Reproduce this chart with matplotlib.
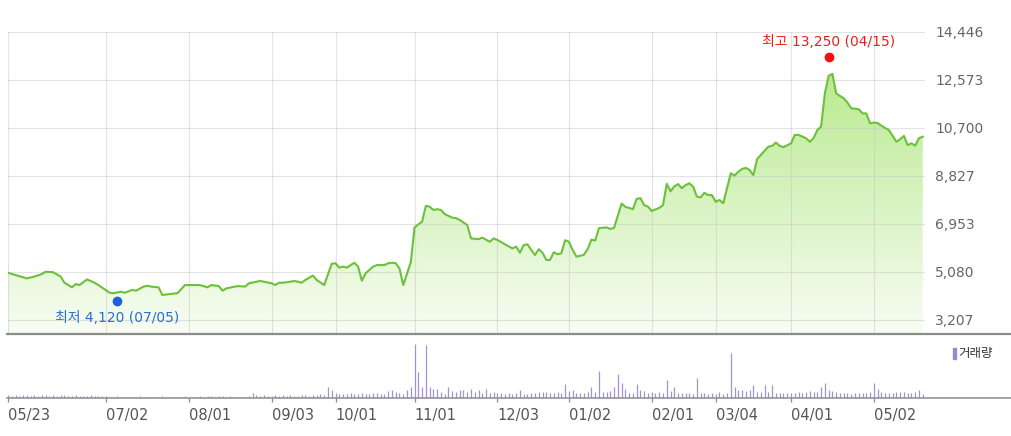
import matplotlib
matplotlib.use('Agg')
import matplotlib.pyplot as plt
import numpy as np
from matplotlib.lines import Line2D
from matplotlib.patches import Rectangle
from matplotlib.transforms import offset_copy

plt.rcParams['font.family'] = ['DejaVu Sans', 'Noto Sans CJK KR']

# trading day index (0 = 2018-05-23) and closing price
day_idx = [0, 2, 5, 7, 9, 10, 12, 14, 15, 17, 18, 19, 21, 23, 24, 27, 28, 30, 31, 33, 34, 36, 37, 38, 40, 41,
           43, 45, 47, 48, 51, 53, 54, 56, 57, 58, 59, 61, 63, 64, 66, 67, 68, 70, 71, 72, 73, 75, 76, 77, 78, 79, 81, 82, 84,
           86, 87, 88, 89, 90, 92, 93, 94, 95, 97, 98, 100, 101, 102, 103, 104, 105,
           107, 108, 109, 110, 111, 112, 113, 114, 115, 116, 118, 119, 120, 122, 123, 125, 126, 128, 129, 130,
           132, 134, 135, 136, 137, 138, 139, 140, 141, 142, 143, 144, 145, 146, 147, 148, 149, 150, 151, 152, 153, 154, 155, 156, 157,
           159, 160, 161, 163, 164, 165, 166, 167, 168, 169, 170, 171, 172, 173, 174, 175, 176, 177, 178, 179, 180, 181, 182, 183, 184, 185, 186, 187, 188, 189, 190,
           192, 193, 194, 195, 196, 197, 198, 199, 200, 202, 203, 204, 205, 206, 208, 209, 210, 212, 213, 214, 215, 216,
           217, 218, 219, 220, 221, 222, 223, 224, 226, 227, 228, 229, 230, 231, 232, 233, 234, 235, 236, 237, 238, 239, 240, 241, 242, 243]
close = [5040, 4950, 4820, 4890, 4990, 5080, 5060, 4890, 4650, 4470, 4600, 4560, 4780, 4650, 4560, 4260, 4240, 4300, 4260, 4370, 4340, 4500, 4530, 4500, 4470, 4170,
         4210, 4240, 4560, 4560, 4560, 4470, 4560, 4520, 4340, 4430, 4460, 4520, 4500, 4630, 4690, 4720, 4690, 4630, 4560, 4650, 4650, 4690, 4720, 4690, 4650, 4760, 4930, 4760, 4560,
         5390, 5410, 5240, 5280, 5240, 5430, 5280, 4730, 5020, 5280, 5340, 5340, 5410, 5430, 5410, 5210, 4560,
         5450, 6810, 6930, 7030, 7650, 7620, 7490, 7520, 7490, 7330, 7190, 7170, 7100, 6900, 6380, 6350, 6410, 6250, 6380, 6320,
         6150, 5990, 6060, 5820, 6120, 6150, 5930, 5730, 5960, 5820, 5540, 5540, 5840, 5760, 5800, 6310, 6250, 5930, 5670, 5700, 5740, 5970, 6330, 6300, 6780,
         6810, 6750, 6790, 7740, 7610, 7570, 7520, 7920, 7950, 7680, 7620, 7450, 7510, 7570, 7680, 8510, 8220, 8410, 8500, 8340, 8460, 8530, 8400, 8010, 7980, 8160, 8070, 8070, 7810, 7880, 7750,
         8920, 8830, 8980, 9090, 9130, 9050, 8850, 9470, 9640, 9960, 9990, 10120, 9990, 9940, 10090, 10420, 10420, 10290, 10150, 10290, 10610, 10740,
         12040, 12720, 12800, 12040, 11940, 11850, 11680, 11460, 11420, 11260, 11260, 10870, 10900, 10880, 10780, 10690, 10610, 10380, 10150, 10250, 10380, 10020, 10090, 10000, 10290, 10350]

# daily volume (relative units), one value per trading day
volume = [25, 22, 25, 24, 26, 25, 23, 25, 24, 25, 26, 24, 25, 23, 25, 26, 24, 22, 25, 20, 24, 22, 25, 18, 24, 20,
          20, 8, 5, 20, 6, 5, 6, 5, 5, 18, 5, 6, 5, 5, 6, 18,
          5, 5, 6, 5, 6, 18, 6,
          8, 8, 20, 8, 20, 20, 8, 20, 18, 8, 20, 8, 6, 8, 10,
          15, 50,
          25, 20, 25, 15, 20, 25, 22, 25, 20, 25, 22, 20, 25, 30, 22, 30, 25, 35,
          30, 110, 80, 50,
          40, 35, 40, 45, 35, 40, 50, 40, 35, 45, 45, 35, 40,
          70, 80, 60, 45, 40, 80, 110, 530, 260, 110, 520, 110, 90, 90, 60, 40, 110, 70, 60, 80, 80,
          60, 90, 60, 80, 45, 90, 50, 60, 45,
          45, 40, 45, 40, 45, 75, 35, 40, 45, 50, 60, 55, 60, 50, 45, 60, 50,
          140, 70, 75, 50, 45, 50, 60, 110, 60, 270,
          60,
          60, 70, 110, 240, 150, 90, 45, 45, 140, 75, 70, 45, 55, 50, 55, 50,
          180, 70, 110, 50, 50, 45, 45, 40, 200, 50, 45, 40, 45, 35, 60, 40, 45, 440, 110, 80, 75, 70,
          75, 130, 60, 55, 130, 55, 130, 50,
          45, 50, 45, 50, 45, 55, 50, 60, 70, 55, 60, 110, 150, 80, 70, 60, 50, 45, 45, 40,
          45, 50, 45, 50, 60, 150, 90, 60, 50, 45, 50, 55, 60, 55, 50, 45, 55, 80, 40]

tick_idx = [0, 26, 48, 70, 87, 108, 130, 149, 171, 188, 208, 230]
tick_labels = ['05/23', '07/02', '08/01', '09/03', '10/01', '11/01', '12/03',
               '01/02', '02/01', '03/04', '04/01', '05/02']
price_ticks = [3207, 5080, 6953, 8827, 10700, 12573, 14446]

hi_idx, hi_val, hi_text = 218, 13250, '최고 13,250 (04/15)'
lo_idx, lo_val, lo_text = 29, 4120, '최저 4,120 (07/05)'

W, H = 1011, 436
fig = plt.figure(figsize=(W / 100, H / 100), dpi=100)
ax = fig.add_axes([8 / W, 102 / H, 917 / W, 302.3 / H])
axv = fig.add_axes([8 / W, 38 / H, 917 / W, 64 / H])

xmax = 243.6
ymin, ymax = 2650, 14446

# gradient fill under the line
grad = np.linspace(0, 1, 256)[:, None]
bottom_c = np.array([248, 253, 244]) / 255
top_c = np.array([176, 231, 128]) / 255
img = bottom_c + grad[..., None] * (top_c - bottom_c)
im = ax.imshow(img, extent=[0, xmax, ymin, ymax], origin='lower', aspect='auto', zorder=1)
poly = ax.fill_between(day_idx, close, ymin, facecolor='none', edgecolor='none')
im.set_clip_path(poly.get_paths()[0], transform=ax.transData)

for v in price_ticks:
    ax.axhline(v, color='#c8c8c8', lw=0.8, alpha=0.5, zorder=1.5)
for t in tick_idx:
    ax.axvline(t, color='#c8c8c8', lw=0.8, alpha=0.5, zorder=1.5)

ax.plot(day_idx, close, color='#6cc13a', lw=1.5, zorder=3)

# high / low markers
tr_up = offset_copy(ax.transData, fig=fig, x=0, y=5, units='dots')
tr_dn = offset_copy(ax.transData, fig=fig, x=0, y=-5, units='dots')
ax.plot([hi_idx], [hi_val], 'o', color='#f01010', ms=7, mec='none', transform=tr_up, zorder=4)
ax.plot([lo_idx], [lo_val], 'o', color='#1c63d6', ms=7, mec='none', transform=tr_dn, zorder=4)
ax.annotate(hi_text, (hi_idx, hi_val), xytext=(0, 14.5), textcoords='offset points',
            ha='center', va='center', color='#e8201c', fontsize=10, zorder=5)
ax.annotate(lo_text, (lo_idx, lo_val), xytext=(0, -15.3), textcoords='offset points',
            ha='center', va='center', color='#2a6fd0', fontsize=10, zorder=5)

ax.set_xlim(0, xmax)
ax.set_ylim(ymin, ymax)
ax.set_yticks(price_ticks)
ax.set_yticklabels([f'{v:,}' for v in price_ticks])
ax.yaxis.tick_right()
ax.tick_params(axis='y', length=0, pad=7.5, labelsize=10, labelcolor='#666666')
ax.set_xticks([])
for s in ax.spines.values():
    s.set_visible(False)

# volume bars
axv.vlines(np.arange(len(volume)), 0, volume, color='#a192d6', lw=0.9)
axv.set_xlim(0, xmax)
axv.set_ylim(0, 630)
axv.set_yticks([])
axv.set_xticks(tick_idx)
axv.set_xticklabels(tick_labels, ha='left')
axv.tick_params(axis='x', length=3, width=0.9, color='#8a8a8a', pad=4,
                labelsize=10.5, labelcolor='#555555')
for s in axv.spines.values():
    s.set_visible(False)

# separator lines across full width
fig.add_artist(Line2D([7 / W, 1], [102 / H, 102 / H], color='#8c8c8c', lw=1.6))
fig.add_artist(Line2D([7 / W, 1], [38 / H, 38 / H], color='#8c8c8c', lw=1.1))

# volume legend
fig.add_artist(Rectangle((952.5 / W, (H - 358.5) / H), 3 / W, 11 / H,
                         transform=fig.transFigure, color='#9a8ad0'))
fig.text(958 / W, (H - 353.5) / H, '거래량', fontsize=9, color='#333333', va='center', ha='left')

fig.savefig('out.png', dpi=100)
